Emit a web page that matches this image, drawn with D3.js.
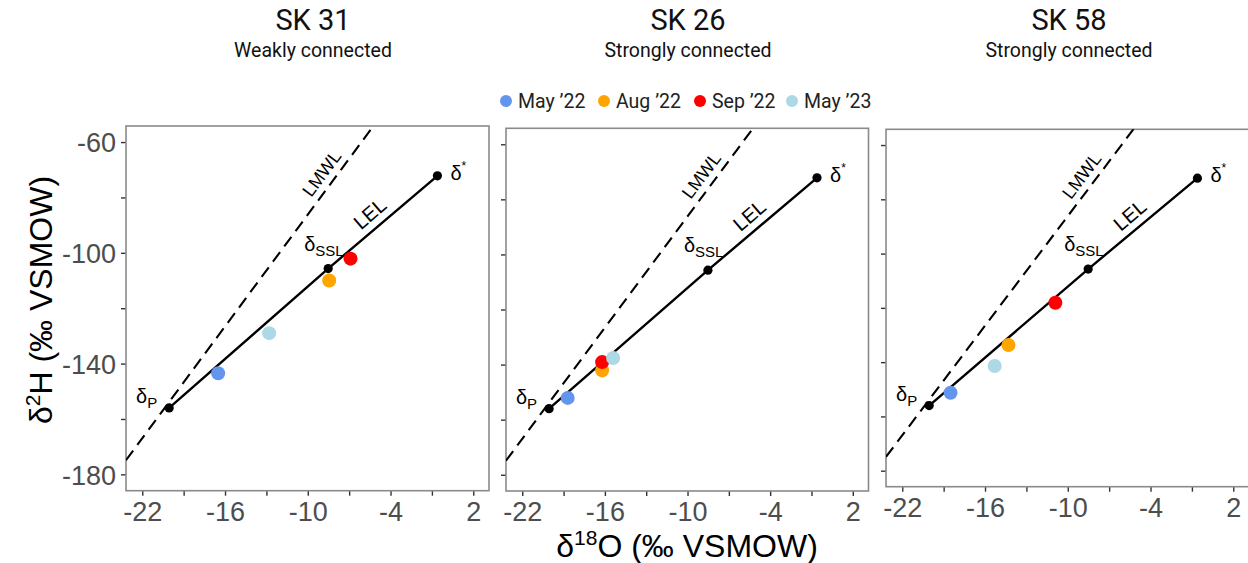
<!DOCTYPE html>
<html>
<head>
<meta charset="utf-8">
<script src="https://cdn.jsdelivr.net/npm/d3@7"></script>
<style>
  html, body { margin: 0; padding: 0; background: #fff; }
  svg { display: block; }
  .cond { font-family: Roboto, "Noto Sans", sans-serif; }
  .arial { font-family: "Liberation Sans", Arial, sans-serif; }
</style>
</head>
<body>
<svg id="chart" width="1248" height="563"></svg>
<script>
// Sites and their connectivity class
const siteNames = ["SK 31", "SK 26", "SK 58"];
const siteClasses = ["Weakly connected", "Strongly connected", "Strongly connected"];

// Sampling campaigns
const campaigns = ["May \u201922", "Aug \u201922", "Sep \u201922", "May \u201923"];
const campaignColors = ["#6495ED", "#FFA500", "#FF0000", "#ADD8E6"];

// Lake water isotopes per site, one value per campaign (‰ VSMOW)
const sampleD18O = [
  [-16.5, -8.45, -6.9, -12.8],
  [-18.7, -16.2, -16.2, -15.4],
  [-18.5, -14.3, -10.9, -15.3]
];
const sampleD2H = [
  [-143.5, -110.0, -102.1, -129.0],
  [-152.1, -142.1, -139.1, -137.6],
  [-151.3, -133.7, -118.1, -141.4]
];

// Local evaporation line anchors: precipitation, steady state, limiting enrichment
const anchorNames = ["P", "SSL", "*"];
const anchorD18O = [-20.05, -8.52, -0.6];
const anchorD2H = [-156.0, -105.7, -72.2];

// Local meteoric water line: d2H = slope * d18O + intercept
const lmwlSlope = 6.73;
const lmwlIntercept = -18.9;

// Axes
const xDomain = [-23.18, 3.14];
const yDomain = [-185.9, -54.2];
const xTickValues = [-22, -19, -16, -13, -10, -7, -4, -1, 2];
const xTickLabels = [-22, -16, -10, -4, 2];
const yTickValues = [-60, -80, -100, -120, -140, -160, -180];
const yTickLabels = [-60, -100, -140, -180];

// Line label positions (data units)
const lmwlLabelAt = [-9.0, -71.3];
const lelLabelAt = [-5.5, -85.8];

// Panel rectangles on the page
const frames = [
  { left: 126, right: 489, top: 126, bottom: 490.7 },
  { left: 506, right: 868.5, top: 128.3, bottom: 491 },
  { left: 886, right: 1249, top: 129.3, bottom: 486.7 }
];
const titleCenters = [313, 688, 1069];

const svg = d3.select("#chart");
const defs = svg.append("defs");

frames.forEach((f, i) => {
  const x = d3.scaleLinear().domain(xDomain).range([f.left, f.right]);
  const y = d3.scaleLinear().domain(yDomain).range([f.bottom, f.top]);
  const g = svg.append("g");

  defs.append("clipPath").attr("id", "clip" + i)
    .append("rect").attr("x", f.left).attr("y", f.top)
    .attr("width", f.right - f.left).attr("height", f.bottom - f.top);

  // Titles
  const cx = titleCenters[i];
  svg.append("text").attr("class", "cond")
    .attr("x", cx).attr("y", 30)
    .attr("text-anchor", "middle").attr("font-size", 29).attr("fill", "#111")
    .text(siteNames[i]);
  svg.append("text").attr("class", "cond")
    .attr("x", cx).attr("y", 56.5)
    .attr("text-anchor", "middle").attr("font-size", 19.5).attr("fill", "#111")
    .text(siteClasses[i]);

  // Axes
  const xAxis = d3.axisBottom(x).tickValues(xTickValues).tickSize(5).tickPadding(6)
    .tickFormat(d => xTickLabels.includes(d) ? String(d) : "");
  const gx = g.append("g").attr("transform", `translate(0,${f.bottom})`).call(xAxis);
  const yAxis = d3.axisLeft(y).tickValues(yTickValues).tickSize(5).tickPadding(5)
    .tickFormat(d => (i === 0 && yTickLabels.includes(d)) ? String(d) : "");
  const gy = g.append("g").attr("transform", `translate(${f.left},0)`).call(yAxis);
  [gx, gy].forEach(a => {
    a.select(".domain").remove();
    a.selectAll(".tick line").attr("stroke", "#333").attr("stroke-width", 1.4);
    a.selectAll(".tick text").attr("class", "arial").attr("font-size", 27).attr("fill", "#4d4d4d");
  });
  gx.selectAll(".tick text").attr("dy", "0.72em");
  gy.selectAll(".tick text").attr("dy", "0.36em");

  // Panel border
  g.append("rect").attr("x", f.left).attr("y", f.top)
    .attr("width", f.right - f.left).attr("height", f.bottom - f.top)
    .attr("fill", "none").attr("stroke", "#8a8a8a").attr("stroke-width", 1.6);

  const plot = g.append("g").attr("clip-path", `url(#clip${i})`);

  // LMWL (dashed)
  const lmwl = xDomain.map(v => [v, lmwlSlope * v + lmwlIntercept]);
  plot.append("path")
    .attr("d", d3.line().x(d => x(d[0])).y(d => y(d[1]))(lmwl))
    .attr("fill", "none").attr("stroke", "#000").attr("stroke-width", 2.1)
    .attr("stroke-dasharray", "12,7");

  // LEL (solid) through the anchors
  const lel = anchorD18O.map((v, k) => [v, anchorD2H[k]]);
  plot.append("path")
    .attr("d", d3.line().x(d => x(d[0])).y(d => y(d[1]))(lel))
    .attr("fill", "none").attr("stroke", "#000").attr("stroke-width", 2.4);

  // Line labels rotated to follow their lines
  const angle = (s) => -Math.atan(s * (y(0) - y(1)) / (x(1) - x(0))) * 180 / Math.PI;
  const lelSlope = (anchorD2H[2] - anchorD2H[0]) / (anchorD18O[2] - anchorD18O[0]);
  [[lmwlLabelAt, "LMWL", lmwlSlope, 18], [lelLabelAt, "LEL", lelSlope, 20]].forEach(([p, t, s, fs]) => {
    g.append("text").attr("class", "arial")
      .attr("transform", `translate(${x(p[0])},${y(p[1])}) rotate(${angle(s)})`)
      .attr("text-anchor", "middle").attr("dy", "0.35em")
      .attr("font-size", fs).attr("fill", "#000").text(t);
  });

  // Campaign samples
  plot.selectAll("circle.sample").data(campaigns).enter().append("circle")
    .attr("class", "sample")
    .attr("cx", (d, k) => x(sampleD18O[i][k]))
    .attr("cy", (d, k) => y(sampleD2H[i][k]))
    .attr("r", 7).attr("fill", (d, k) => campaignColors[k]);

  // Anchor points
  plot.selectAll("circle.anchor").data(anchorNames).enter().append("circle")
    .attr("class", "anchor")
    .attr("cx", (d, k) => x(anchorD18O[k]))
    .attr("cy", (d, k) => y(anchorD2H[k]))
    .attr("r", 4.6).attr("fill", "#000");

  // Anchor labels
  const offsets = [[-12, -5, "end"], [-24, -18, "start"], [13, 4, "start"]];
  anchorNames.forEach((n, k) => {
    const t = g.append("text").attr("class", "arial")
      .attr("x", x(anchorD18O[k]) + offsets[k][0])
      .attr("y", y(anchorD2H[k]) + offsets[k][1])
      .attr("text-anchor", offsets[k][2])
      .attr("font-size", 20).attr("fill", "#000");
    t.append("tspan").text("\u03b4");
    if (n === "*") {
      t.append("tspan").attr("font-size", 12).attr("dy", -10).text("*");
    } else {
      t.append("tspan").attr("font-size", 15).attr("dy", 5).text(n);
    }
  });
});

// Legend
const legendX = [506, 604, 700, 792];
const legend = svg.append("g");
campaigns.forEach((c, k) => {
  legend.append("circle").attr("cx", legendX[k]).attr("cy", 101).attr("r", 6)
    .attr("fill", campaignColors[k]);
  legend.append("text").attr("x", legendX[k] + 12).attr("y", 107.5)
    .attr("font-family", "Roboto, 'Noto Sans', sans-serif").attr("font-size", 19.5)
    .attr("fill", "#222").text(c);
});

// Axis titles
const yt = svg.append("text").attr("class", "arial")
  .attr("transform", "translate(52,300) rotate(-90)")
  .attr("text-anchor", "middle").attr("font-size", 32).attr("fill", "#000");
yt.append("tspan").text("\u03b4");
yt.append("tspan").attr("font-size", 21).attr("dy", -12).text("2");
yt.append("tspan").attr("dy", 12).text("H (\u2030 VSMOW)");

const xt = svg.append("text").attr("class", "arial")
  .attr("x", 687).attr("y", 557)
  .attr("text-anchor", "middle").attr("font-size", 32).attr("fill", "#000");
xt.append("tspan").text("\u03b4");
xt.append("tspan").attr("font-size", 21).attr("dy", -12).text("18");
xt.append("tspan").attr("dy", 12).text("O (\u2030 VSMOW)");
</script>
</body>
</html>
